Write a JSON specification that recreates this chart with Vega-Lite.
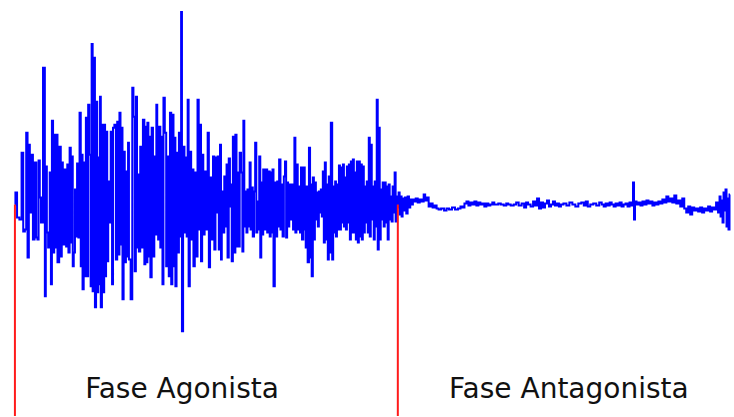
{
"$schema": "https://vega.github.io/schema/vega-lite/v6.json",
"width": 734, "height": 417,
"autosize": {"type": "fit", "contains": "padding"},
"padding": 0,
"background": "white",
"config": {"view": {"stroke": null}},
"datasets": {
"phases": [
{"x0": 15, "lx": 183, "label": "Fase Agonista"},
{"x0": 400, "lx": 572, "label": "Fase Antagonista"}
],
"sig": [
{"t":15,"v":0},{"t":16,"v":12},{"t":18.3,"v":-13},{"t":20.7,"v":-15},{"t":22.7,"v":52},{"t":24,"v":-27},{"t":26,"v":-25},{"t":26.7,"v":72},{"t":28.7,"v":-53},{"t":29.3,"v":60},{"t":30.7,"v":-8},{"t":32.7,"v":50},{"t":33.5,"v":-35},{"t":36,"v":42},{"t":37,"v":-33},{"t":38.3,"v":-35},{"t":39.3,"v":44},{"t":40.7,"v":7},{"t":41.7,"v":-18},{"t":44.8,"v":137},{"t":45.4,"v":-92},{"t":46.7,"v":38},{"t":47.5,"v":-28},{"t":49.3,"v":-43},{"t":50.7,"v":32},{"t":51.7,"v":-80},{"t":52.7,"v":84},{"t":54,"v":-48},{"t":55,"v":70},{"t":56,"v":-43},{"t":57.3,"v":70},{"t":58.3,"v":-58},{"t":60.7,"v":58},{"t":61.5,"v":-52},{"t":62.7,"v":42},{"t":63.6,"v":-40},{"t":66,"v":35},{"t":67,"v":-42},{"t":68.3,"v":40},{"t":69.3,"v":-48},{"t":70.7,"v":57},{"t":71.6,"v":-38},{"t":72.7,"v":48},{"t":73.6,"v":-62},{"t":74.7,"v":-48},{"t":76,"v":15},{"t":76.7,"v":-32},{"t":78.3,"v":41},{"t":79.3,"v":-33},{"t":80.7,"v":92},{"t":81.7,"v":-62},{"t":82.7,"v":50},{"t":83.3,"v":-85},{"t":85,"v":42},{"t":86,"v":-72},{"t":86.7,"v":87},{"t":88.3,"v":-72},{"t":89,"v":100},{"t":90.7,"v":50},{"t":91.6,"v":-82},{"t":92.7,"v":161},{"t":93.6,"v":-87},{"t":95,"v":147},{"t":95.9,"v":-103},{"t":97.3,"v":103},{"t":98.2,"v":-88},{"t":99.3,"v":47},{"t":100.1,"v":-80},{"t":101,"v":108},{"t":101.7,"v":-103},{"t":103.3,"v":80},{"t":104.2,"v":-88},{"t":105.3,"v":80},{"t":106,"v":-72},{"t":107.3,"v":73},{"t":108.3,"v":-57},{"t":109.3,"v":23},{"t":110.7,"v":-18},{"t":112,"v":73},{"t":113.3,"v":-80},{"t":114,"v":77},{"t":116,"v":80},{"t":117,"v":-55},{"t":118.7,"v":83},{"t":119.5,"v":-50},{"t":120.7,"v":92},{"t":121.6,"v":-40},{"t":122.7,"v":77},{"t":123.6,"v":-95},{"t":125,"v":53},{"t":125.9,"v":-58},{"t":127.3,"v":33},{"t":128.2,"v":-52},{"t":129.3,"v":62},{"t":130,"v":-55},{"t":132.7,"v":-95},{"t":133.3,"v":117},{"t":135,"v":88},{"t":135.9,"v":-67},{"t":137.3,"v":108},{"t":138.2,"v":-43},{"t":139.3,"v":30},{"t":140,"v":-47},{"t":142,"v":58},{"t":142.7,"v":-43},{"t":144.7,"v":85},{"t":145.6,"v":-60},{"t":146.7,"v":78},{"t":147.7,"v":-58},{"t":148.7,"v":82},{"t":149.7,"v":-52},{"t":150.7,"v":68},{"t":151.7,"v":-73},{"t":153.3,"v":77},{"t":154.3,"v":-52},{"t":156,"v":48},{"t":156.9,"v":-30},{"t":157.5,"v":100},{"t":158.7,"v":23},{"t":159.3,"v":-35},{"t":160.7,"v":78},{"t":161.7,"v":-43},{"t":162.7,"v":68},{"t":164,"v":-80},{"t":164.7,"v":107},{"t":166.7,"v":72},{"t":167.5,"v":-62},{"t":169.3,"v":48},{"t":170.1,"v":-72},{"t":171.7,"v":92},{"t":172.6,"v":-80},{"t":174,"v":90},{"t":174.9,"v":-62},{"t":176,"v":67},{"t":176.7,"v":-82},{"t":178.3,"v":52},{"t":179.1,"v":-48},{"t":180.7,"v":72},{"t":181.5,"v":-32},{"t":182.7,"v":193},{"t":183.2,"v":-127},{"t":185,"v":58},{"t":185.9,"v":-28},{"t":187.3,"v":47},{"t":188.1,"v":-32},{"t":189.3,"v":105},{"t":190,"v":-82},{"t":191.7,"v":53},{"t":192.7,"v":-35},{"t":194,"v":35},{"t":195,"v":-62},{"t":196.7,"v":32},{"t":197.9,"v":-52},{"t":199.3,"v":105},{"t":200.3,"v":-25},{"t":201.7,"v":80},{"t":202.5,"v":-57},{"t":204,"v":50},{"t":204.8,"v":-30},{"t":206.7,"v":33},{"t":208.3,"v":-25},{"t":209.3,"v":72},{"t":210.7,"v":-63},{"t":211.7,"v":27},{"t":213.3,"v":-35},{"t":215,"v":48},{"t":216,"v":-45},{"t":217.3,"v":47},{"t":218.3,"v":-8},{"t":219.3,"v":48},{"t":220.7,"v":-45},{"t":221.7,"v":60},{"t":222.7,"v":-55},{"t":223.3,"v":13},{"t":225,"v":-28},{"t":226,"v":28},{"t":227.3,"v":-22},{"t":228.3,"v":40},{"t":229.3,"v":-53},{"t":230.7,"v":46},{"t":231.7,"v":-2},{"t":232.7,"v":20},{"t":233.3,"v":-57},{"t":235,"v":68},{"t":236,"v":-48},{"t":237.3,"v":70},{"t":238.3,"v":-42},{"t":239.3,"v":32},{"t":240.7,"v":-42},{"t":241.3,"v":52},{"t":243.3,"v":32},{"t":244.1,"v":-47},{"t":245.3,"v":84},{"t":246,"v":-22},{"t":247.3,"v":13},{"t":248.3,"v":-28},{"t":249.3,"v":15},{"t":250.7,"v":-22},{"t":251.3,"v":42},{"t":252.7,"v":-25},{"t":253.3,"v":17},{"t":255,"v":-32},{"t":255.8,"v":13},{"t":257.3,"v":62},{"t":258.1,"v":-28},{"t":259.3,"v":3},{"t":260,"v":-25},{"t":261.3,"v":48},{"t":262.1,"v":-53},{"t":263.3,"v":22},{"t":264,"v":-30},{"t":265.3,"v":35},{"t":266.7,"v":-25},{"t":268,"v":35},{"t":269.3,"v":-28},{"t":270.7,"v":33},{"t":271.7,"v":-32},{"t":272.7,"v":32},{"t":273.3,"v":-28},{"t":274.7,"v":35},{"t":275.3,"v":-82},{"t":277.3,"v":22},{"t":278.1,"v":-32},{"t":279.3,"v":23},{"t":280,"v":-22},{"t":281.3,"v":45},{"t":282.7,"v":-25},{"t":283.3,"v":20},{"t":285,"v":-32},{"t":285.8,"v":28},{"t":287.3,"v":43},{"t":288.1,"v":-33},{"t":289.3,"v":22},{"t":290,"v":-22},{"t":291.7,"v":20},{"t":292.7,"v":-15},{"t":294,"v":20},{"t":295.3,"v":-25},{"t":296.7,"v":67},{"t":297.3,"v":-28},{"t":298.7,"v":40},{"t":300,"v":-25},{"t":301.3,"v":18},{"t":302,"v":-28},{"t":303.3,"v":37},{"t":304,"v":-35},{"t":306,"v":37},{"t":306.8,"v":-25},{"t":308,"v":-43},{"t":308.7,"v":18},{"t":310,"v":-58},{"t":311.3,"v":57},{"t":312.2,"v":-53},{"t":313,"v":20},{"t":313.8,"v":-72},{"t":315.3,"v":27},{"t":315.9,"v":-35},{"t":317.3,"v":22},{"t":317.9,"v":-15},{"t":319.3,"v":12},{"t":319.9,"v":-22},{"t":321.3,"v":13},{"t":321.9,"v":-8},{"t":323.3,"v":15},{"t":323.9,"v":-12},{"t":325.3,"v":33},{"t":325.9,"v":-38},{"t":327.3,"v":42},{"t":327.9,"v":-35},{"t":329.3,"v":20},{"t":329.9,"v":-55},{"t":331.3,"v":28},{"t":332,"v":-48},{"t":333.3,"v":82},{"t":334.7,"v":-55},{"t":335.3,"v":18},{"t":336.7,"v":-28},{"t":337.3,"v":23},{"t":338.3,"v":-32},{"t":339.3,"v":20},{"t":340.3,"v":-25},{"t":341.3,"v":39},{"t":342.3,"v":-25},{"t":343.3,"v":37},{"t":344.3,"v":-18},{"t":345.3,"v":40},{"t":346.3,"v":-22},{"t":347.3,"v":27},{"t":348.3,"v":-25},{"t":349.3,"v":38},{"t":350.3,"v":-18},{"t":351.3,"v":40},{"t":352.3,"v":-35},{"t":353.3,"v":43},{"t":354.3,"v":-28},{"t":355.3,"v":45},{"t":356.3,"v":-28},{"t":357.3,"v":32},{"t":358.3,"v":-35},{"t":359.3,"v":43},{"t":360.3,"v":-38},{"t":361.3,"v":43},{"t":362.3,"v":-32},{"t":363.3,"v":40},{"t":364.3,"v":-35},{"t":365.3,"v":38},{"t":366.3,"v":-28},{"t":367.3,"v":18},{"t":368.3,"v":-18},{"t":369.3,"v":23},{"t":370.3,"v":-28},{"t":371.3,"v":67},{"t":372.3,"v":-32},{"t":373.3,"v":60},{"t":374.3,"v":-15},{"t":375.3,"v":18},{"t":376.3,"v":-35},{"t":377.3,"v":23},{"t":378.3,"v":-22},{"t":379.3,"v":105},{"t":380.3,"v":-45},{"t":381.3,"v":77},{"t":382.3,"v":-35},{"t":383.3,"v":15},{"t":384.3,"v":-15},{"t":385.3,"v":22},{"t":386.3,"v":-22},{"t":387.3,"v":22},{"t":388.3,"v":-18},{"t":389.3,"v":18},{"t":390.3,"v":-35},{"t":391.3,"v":20},{"t":392.3,"v":-15},{"t":393.3,"v":8},{"t":394.3,"v":-17},{"t":395.3,"v":18},{"t":396.3,"v":-8},{"t":397.3,"v":32},{"t":398.3,"v":-17},{"t":399.3,"v":8},{"t":400.3,"v":-3},{"t":401.3,"v":12},{"t":402.3,"v":-10},{"t":403.3,"v":8},{"t":404.3,"v":-12},{"t":405.3,"v":6},{"t":406.3,"v":-6},{"t":408,"v":7},{"t":409,"v":-9},{"t":410.7,"v":8},{"t":411.7,"v":-3},{"t":413.3,"v":5},{"t":414.3,"v":0},{"t":416,"v":5},
{"t":417,"v":3},{"t":419,"v":6},{"t":421,"v":2},{"t":423,"v":5},{"t":425,"v":3},{"t":427,"v":10},{"t":428,"v":4},{"t":430,"v":7},{"t":432,"v":-2},{"t":434,"v":1},{"t":436,"v":-3},{"t":438,"v":-1},{"t":440,"v":-4},{"t":442,"v":-5},{"t":445,"v":-4},{"t":448,"v":-6},{"t":450,"v":-4},{"t":453,"v":-5},{"t":456,"v":-3},{"t":459,"v":-5},{"t":462,"v":-4},{"t":464,"v":-2},{"t":466,"v":-3},{"t":468,"v":1},{"t":470,"v":3},{"t":472,"v":-1},{"t":474,"v":2},{"t":476,"v":0},{"t":478,"v":3},{"t":480,"v":-1},{"t":482,"v":2},{"t":484,"v":0},{"t":486,"v":1},{"t":488,"v":-2},{"t":490,"v":1},{"t":492,"v":-1},{"t":494,"v":0},{"t":496,"v":2},{"t":498,"v":0},{"t":500,"v":0},{"t":502,"v":1},{"t":505,"v":0},{"t":508,"v":-1},{"t":510,"v":1},{"t":512,"v":0},{"t":515,"v":-1},{"t":518,"v":0},{"t":520,"v":2},{"t":523,"v":-1},{"t":526,"v":1},{"t":528,"v":-3},{"t":530,"v":2},{"t":532,"v":0},{"t":535,"v":-2},{"t":537,"v":3},{"t":539,"v":-1},{"t":541,"v":6},{"t":543,"v":-4},{"t":545,"v":2},{"t":547,"v":-3},{"t":549,"v":1},{"t":551,"v":4},{"t":553,"v":-2},{"t":555,"v":0},{"t":557,"v":3},{"t":559,"v":-1},{"t":561,"v":1},{"t":563,"v":-2},{"t":565,"v":0},{"t":568,"v":1},{"t":571,"v":-1},{"t":574,"v":2},{"t":577,"v":0},{"t":580,"v":-2},{"t":583,"v":1},{"t":586,"v":2},{"t":588,"v":-1},{"t":590,"v":3},{"t":592,"v":-2},{"t":595,"v":0},{"t":598,"v":1},{"t":601,"v":-1},{"t":604,"v":2},{"t":606,"v":0},{"t":608,"v":-2},{"t":610,"v":1},{"t":612,"v":-1},{"t":614,"v":2},{"t":616,"v":0},{"t":618,"v":-2},{"t":620,"v":1},{"t":622,"v":-1},{"t":624,"v":2},{"t":626,"v":-2},{"t":628,"v":0},{"t":630,"v":1},{"t":632,"v":-2},{"t":634,"v":2},{"t":636,"v":-1},{"t":637,"v":22},{"t":638,"v":-15},{"t":639,"v":3},{"t":641,"v":0},{"t":643,"v":2},{"t":645,"v":-1},{"t":647,"v":3},{"t":649,"v":0},{"t":651,"v":4},{"t":653,"v":1},{"t":655,"v":3},{"t":657,"v":-1},{"t":659,"v":2},{"t":661,"v":0},{"t":663,"v":3},{"t":665,"v":1},{"t":667,"v":5},{"t":669,"v":2},{"t":671,"v":8},{"t":673,"v":3},{"t":675,"v":6},{"t":677,"v":2},{"t":679,"v":9},{"t":681,"v":1},{"t":683,"v":4},{"t":685,"v":-2},{"t":687,"v":6},{"t":689,"v":-4},{"t":691,"v":-8},{"t":693,"v":-2},{"t":695,"v":-10},{"t":697,"v":-3},{"t":699,"v":-6},{"t":701,"v":-4},{"t":703,"v":-7},{"t":705,"v":-3},{"t":707,"v":-8},{"t":709,"v":-4},{"t":711,"v":-6},{"t":713,"v":-2},{"t":715,"v":-7},{"t":717,"v":-3},{"t":719,"v":-5},{"t":721,"v":2},{"t":723,"v":-8},{"t":724,"v":8},{"t":725,"v":-12},{"t":726,"v":4},{"t":727,"v":-18},{"t":728,"v":12},{"t":729,"v":-6},{"t":730,"v":15},{"t":731,"v":-22},{"t":732,"v":6},{"t":733,"v":-25},{"t":734,"v":10}
]
},
"layer": [
{
"data": {"name": "sig"},
"mark": {"type": "line", "color": "#0000ff", "strokeWidth": 2, "interpolate": "step"},
"encoding": {
"x": {"field": "t", "type": "quantitative", "scale": {"domain": [0, 734], "nice": false, "zero": false}, "axis": null},
"y": {"field": "v", "type": "quantitative", "scale": {"domain": [-212, 205], "nice": false, "zero": false}, "axis": null}
}
},
{
"data": {"name": "phases"},
"mark": {"type": "rule", "color": "#ff1a1a", "strokeWidth": 2},
"encoding": {
"x": {"field": "x0", "type": "quantitative", "scale": {"domain": [0, 734], "nice": false, "zero": false}, "axis": null},
"y": {"datum": 0, "type": "quantitative", "scale": {"domain": [-212, 205], "nice": false, "zero": false}, "axis": null},
"y2": {"datum": -212}
}
},
{
"data": {"name": "phases"},
"mark": {"type": "text", "font": "DejaVu Sans", "fontSize": 28, "align": "center", "baseline": "alphabetic", "color": "#111111"},
"encoding": {
"x": {"field": "lx", "type": "quantitative", "scale": {"domain": [0, 734], "nice": false, "zero": false}, "axis": null},
"y": {"datum": -194, "type": "quantitative", "scale": {"domain": [-212, 205], "nice": false, "zero": false}, "axis": null},
"text": {"field": "label", "type": "nominal"}
}
}
]
}
